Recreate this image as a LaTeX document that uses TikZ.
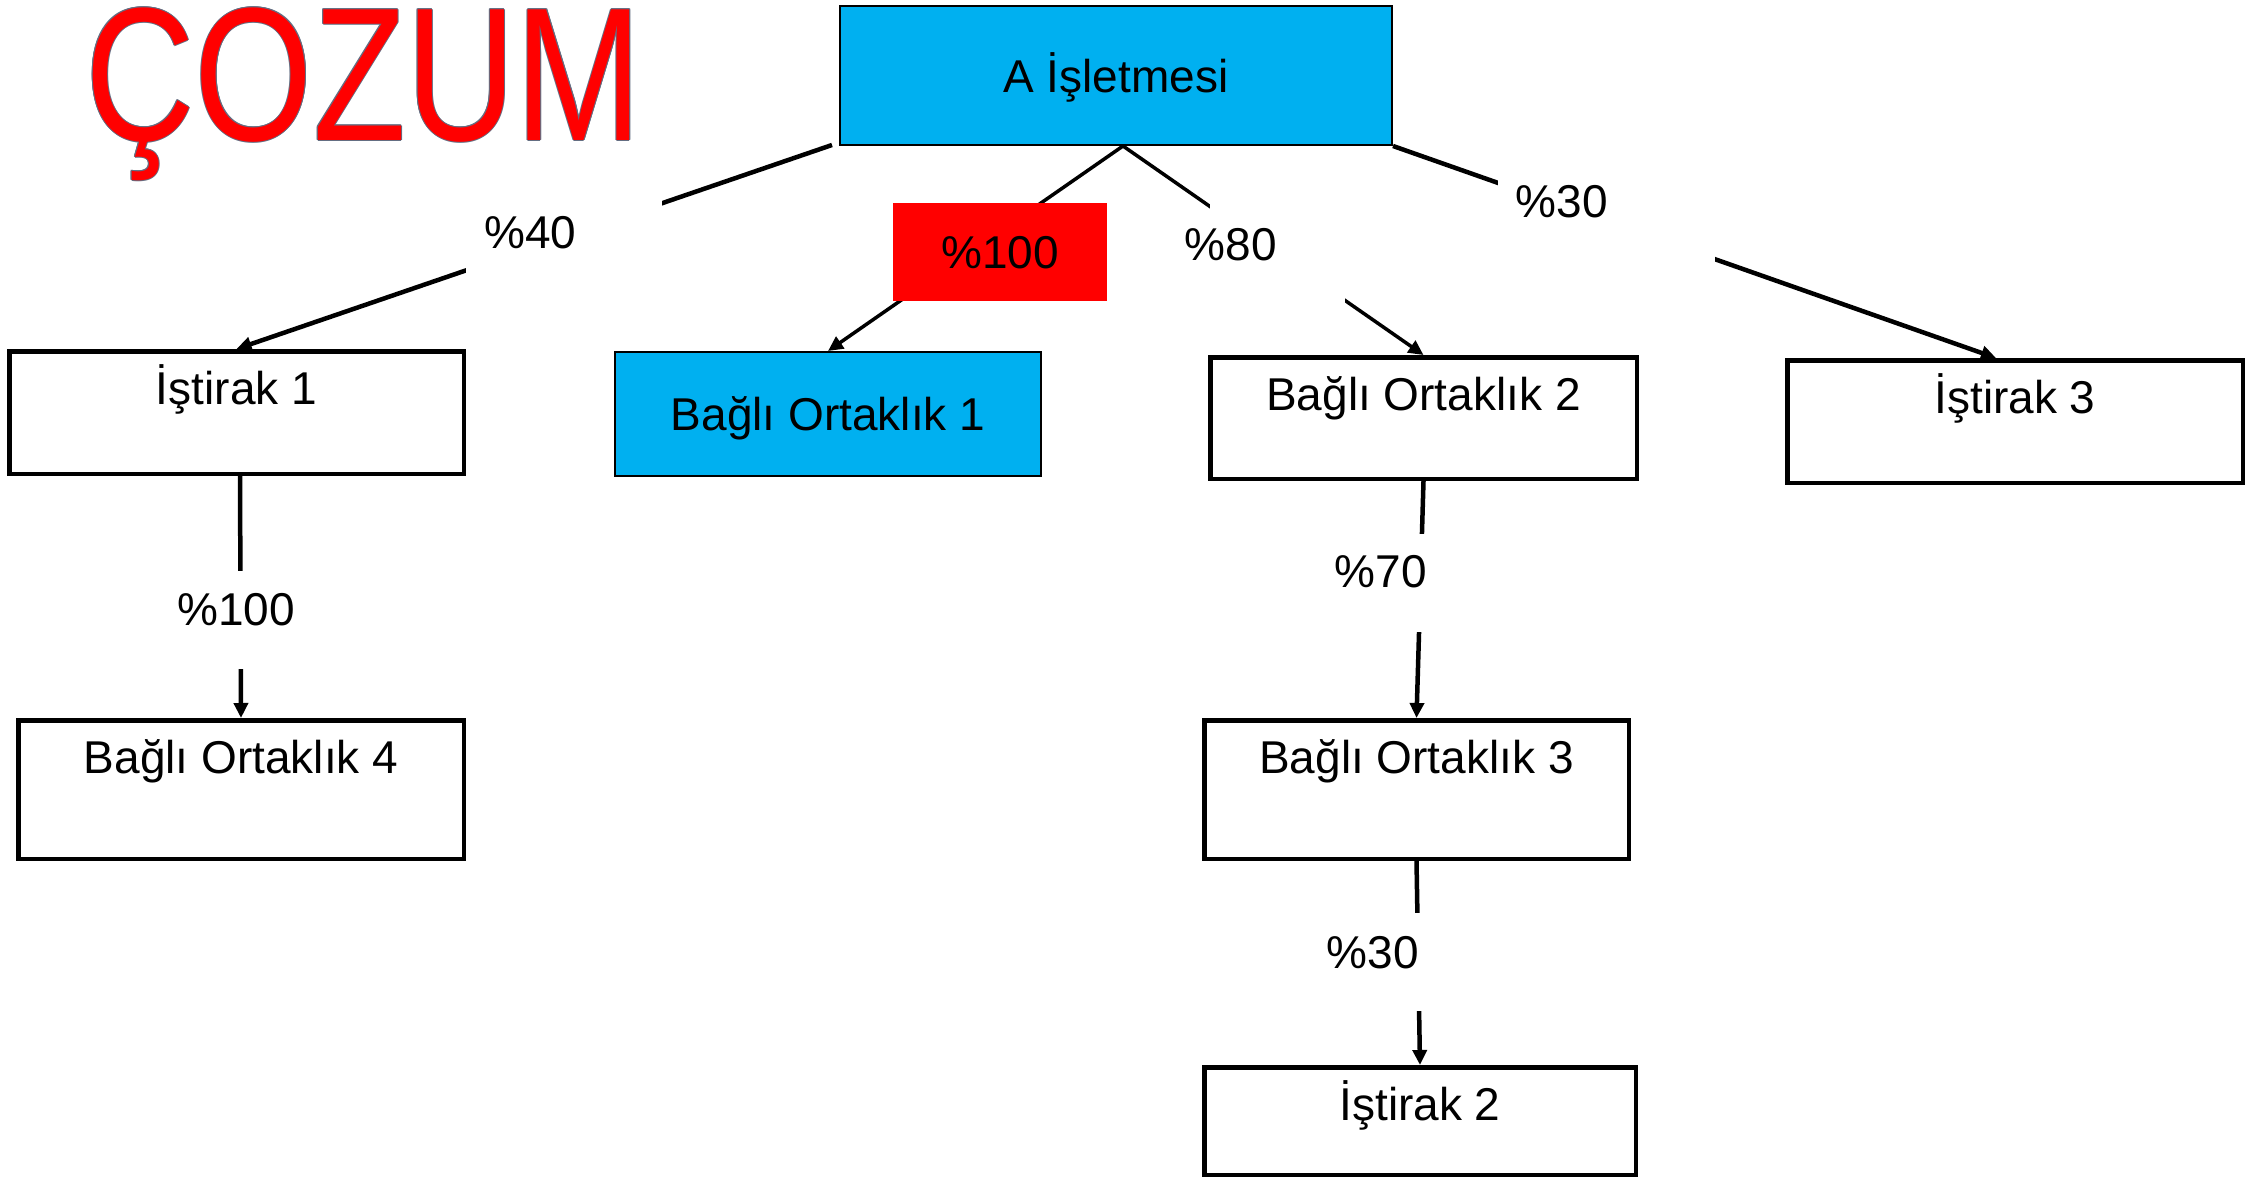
\documentclass[tikz,border=0pt]{standalone}
\usepackage{fontspec}
\setmainfont{Liberation Sans}
\usepackage{graphicx}
\usetikzlibrary{arrows.meta,calc}
\definecolor{boxcyan}{HTML}{00B0F0}
\definecolor{outl}{RGB}{100,110,130}
\newcommand\fsz{\fontsize{46}{55}\selectfont}
\newcommand\cozumtext{\scalebox{0.8}[1]{\fontsize{190}{190}\selectfont ÇOZUM}}
\begin{document}
\begin{tikzpicture}[x=1pt,y=-1pt,
  thickbox/.style={draw, line width=4.5pt, inner sep=0pt, text height=52.75pt, font=\fsz},
  thinbox/.style={draw, line width=2pt, fill=boxcyan, inner sep=0pt, text height=33pt, text depth=0pt, font=\fsz},
  conn/.style={line width=4.5pt, -{Triangle[length=15pt,width=14pt]}},
  connthin/.style={line width=3.5pt, -{Triangle[length=15pt,width=14pt]}},
  pct/.style={anchor=base, inner sep=0pt, font=\fsz},
  gapbox/.style={fill=white}]
\useasboundingbox (0,0) rectangle (2246,1178);

% title
\foreach \dx/\dy [count=\i] in {1/0,-1/0,0/1,0/-1,0.7/0.7,-0.7/0.7,0.7/-0.7,-0.7/-0.7}
  \node[anchor=base west, inner sep=0pt, text=outl] (o\i) at ($(85,140)+(\dx,\dy)$) {\cozumtext};
\node[anchor=base west, inner sep=0pt, text=red] (title) at (85,140) {\cozumtext};

% boxes
\node[thinbox, minimum width=552pt, minimum height=139pt] (A) at (1116,75.5) {A İşletmesi};
\node[thinbox, minimum width=426pt, minimum height=124pt] (B1) at (828,414) {Bağlı Ortaklık 1};
\node[thickbox, minimum width=454.5pt, text depth=69.75pt] (I1) at (236.5,412.5) {İştirak 1};
\node[thickbox, minimum width=445.5pt, text depth=85.75pt] (B4) at (241,789.5) {Bağlı Ortaklık 4};
\node[thickbox, minimum width=426.5pt, text depth=68.75pt] (B2) at (1423.5,418) {Bağlı Ortaklık 2};
\node[thickbox, minimum width=455.5pt, text depth=69.75pt] (I3) at (2015,421.5) {İştirak 3};
\node[thickbox, minimum width=424.5pt, text depth=85.75pt] (B3) at (1416.5,789.5) {Bağlı Ortaklık 3};
\node[thickbox, minimum width=431.5pt, text depth=54.75pt] (I2) at (1420,1121) {İştirak 2};

% connectors
\draw[conn] ($(A.south west)+(-7,-1)$) -- (I1.north);
\draw[connthin] ($(A.south)+(7,0)$) -- (B1.north);
\draw[connthin] ($(A.south)+(7,0)$) -- (B2.north);
\draw[conn] (A.south east) -- ($(I3.north)+(-19,0)$);
\draw[conn] ($(I1.south)+(3.5,0)$) -- (B4.north);
\draw[conn] (B2.south) -- (B3.north);
\draw[conn] (B3.south) -- (I2.north);

% gaps behind labels
\fill[gapbox] (466,195) rectangle (662,280);
\fill[gapbox] (1210,195) rectangle (1345,314);
\fill[gapbox] (1498,171) rectangle (1715,264);
\fill[gapbox] (150,571) rectangle (330,669);
\fill[gapbox] (1300,534) rectangle (1460,632);
\fill[gapbox] (1300,913) rectangle (1460,1011);

% labels
\node[pct] (l40) at (530.5,248) {\%40};
\node[fill=red, inner sep=0pt, minimum width=214pt, minimum height=98pt, text height=33pt, text depth=0pt, font=\fsz] (l100a) at (1000,252) {\%100};
\node[pct] (l80) at (1231,260) {\%80};
\node[pct] (l30a) at (1562,217) {\%30};
\node[pct] (l100b) at (236,625) {\%100};
\node[pct] (l70) at (1381,587) {\%70};
\node[pct] (l30b) at (1373,968) {\%30};
\end{tikzpicture}
\end{document}
